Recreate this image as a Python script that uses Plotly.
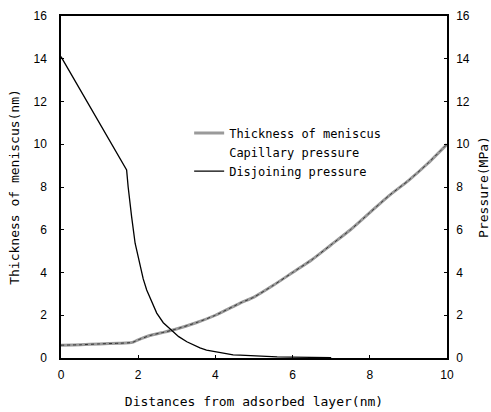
import plotly.graph_objects as go

# Data
thick_x = [0, 0.5, 1.0, 1.5, 1.85, 2.0, 2.3, 2.6, 2.9, 3.5, 4.0, 4.64, 5.0, 5.5, 6.0, 6.5, 7.0, 7.5, 8.0, 8.5, 9.0, 9.5, 10.0]
thick_y = [0.6, 0.62, 0.66, 0.69, 0.73, 0.85, 1.05, 1.18, 1.31, 1.65, 2.0, 2.57, 2.85, 3.4, 4.0, 4.6, 5.3, 6.0, 6.8, 7.6, 8.3, 9.1, 10.0]

disj_x = [0, 1.7, 1.74, 1.78, 1.83, 1.92, 2.05, 2.13, 2.22, 2.35, 2.48, 2.65, 2.87, 3.05, 3.26, 3.6, 3.77, 4.12, 4.46, 4.64, 5.16, 5.6, 6.0, 6.5, 7.0]
disj_y = [14.1, 8.8, 8.0, 7.3, 6.6, 5.37, 4.27, 3.7, 3.18, 2.6, 2.1, 1.65, 1.31, 1.0, 0.76, 0.47, 0.37, 0.25, 0.15, 0.13, 0.07, 0.05, 0.04, 0.03, 0.02]

cap_x = [0]
cap_y = [0]

x_ticks = [0, 2, 4, 6, 8, 10]
y_ticks = [0, 2, 4, 6, 8, 10, 12, 14, 16]

mono = "DejaVu Sans Mono"
sans = "Liberation Sans"

fig = go.Figure()
fig.add_trace(go.Scatter(x=thick_x, y=thick_y, mode="lines", name="Thickness of meniscus",
                         line=dict(color="#9a9a9a", width=3, shape="spline", smoothing=0.6), yaxis="y"))
fig.add_trace(go.Scatter(x=thick_x, y=thick_y, mode="lines", showlegend=False,
                         line=dict(color="#333333", width=1, dash="dot", shape="spline", smoothing=0.6),
                         yaxis="y", hoverinfo="skip"))
fig.add_trace(go.Scatter(x=cap_x, y=cap_y, mode="lines", name="Capillary pressure",
                         line=dict(color="rgba(0,0,0,0)", width=1), yaxis="y2"))
fig.add_trace(go.Scatter(x=disj_x, y=disj_y, mode="lines", name="Disjoining pressure",
                         line=dict(color="black", width=1.3), yaxis="y2"))

fig.update_layout(
    width=491, height=412,
    margin=dict(l=61, r=44, t=16, b=54, autoexpand=False),
    plot_bgcolor="white", paper_bgcolor="white",
    font=dict(family=sans, size=12, color="black"),
    xaxis=dict(range=[0, 10], tickvals=x_ticks, showgrid=False, zeroline=False, automargin=False,
               showline=True, linecolor="black", linewidth=1.5, mirror=True,
               ticks="inside", ticklen=3, tickcolor="black", ticklabelstandoff=5,
               title=dict(text="Distances from adsorbed layer(nm)", font=dict(family=mono, size=13), standoff=16),
               tickfont=dict(family=sans, size=12)),
    yaxis=dict(range=[0, 16], tickvals=y_ticks, showgrid=False, zeroline=False, automargin=False,
               showline=True, linecolor="black", linewidth=1.5,
               ticks="inside", ticklen=3, tickcolor="black", ticklabelstandoff=10,
               title=dict(text="Thickness of meniscus(nm)", font=dict(family=mono, size=13), standoff=11),
               tickfont=dict(family=sans, size=12)),
    yaxis2=dict(range=[0, 16], tickvals=y_ticks, overlaying="y", side="right", automargin=False,
                showgrid=False, zeroline=False, showline=True, linecolor="black", linewidth=1.5,
                ticks="inside", ticklen=3, tickcolor="black", ticklabelstandoff=5,
                title=dict(text="Pressure(MPa)", font=dict(family=mono, size=13), standoff=12),
                tickfont=dict(family=sans, size=12)),
    legend=dict(x=0.332, y=0.70, xanchor="left", yanchor="top", bgcolor="rgba(0,0,0,0)",
                font=dict(family=mono, size=12), tracegroupgap=0, itemwidth=30),
    showlegend=True,
)

fig.write_html("out.html")
